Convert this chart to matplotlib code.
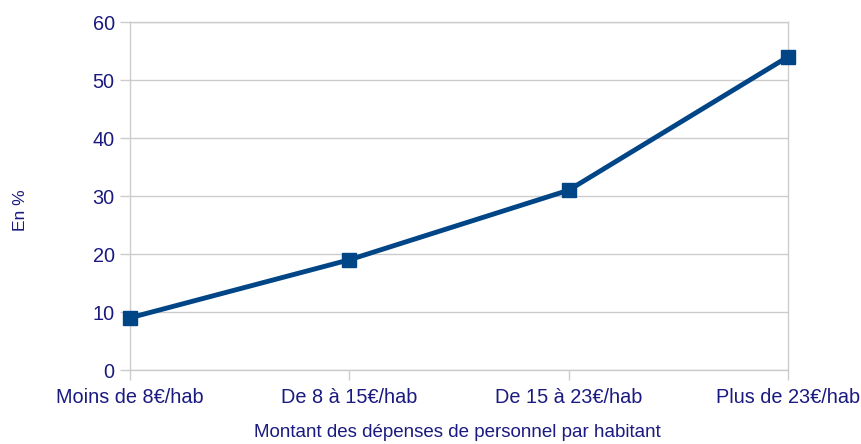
import matplotlib
matplotlib.use("Agg")
import matplotlib.pyplot as plt

categories = ["Moins de 8€/hab", "De 8 à 15€/hab", "De 15 à 23€/hab", "Plus de 23€/hab"]
values = [9, 19, 31, 54]
yticks = [0, 10, 20, 30, 40, 50, 60]

plt.rcParams['font.family'] = ['Liberation Sans', 'DejaVu Sans']
text_color = "#1a1a80"
line_color = "#004586"
grid_color = "#cccccc"

W, H = 861, 444
fig = plt.figure(figsize=(W/100, H/100), dpi=100)
ax = fig.add_axes([130/W, 1 - 370/H, (788-130)/W, (370-22)/H])

x = list(range(len(categories)))
ax.plot(x, values, color=line_color, linewidth=3.5, marker="s", markersize=10,
        markerfacecolor=line_color, markeredgecolor=line_color, clip_on=False, zorder=3)

ax.set_xlim(0, len(categories) - 1)
ax.set_ylim(0, 60)
ax.set_yticks(yticks)
ax.set_xticks(x)
ax.set_xticklabels(categories)
ax.yaxis.grid(True, color=grid_color, linewidth=1)
ax.set_axisbelow(True)
for s in ax.spines.values():
    s.set_color(grid_color)
    s.set_linewidth(1)
ax.tick_params(axis='both', colors=grid_color, labelcolor=text_color, labelsize=14.3,
               length=7, width=1, direction='out')
ax.tick_params(axis='x', pad=6)
ax.tick_params(axis='y', pad=4)

ax.set_ylabel("En %", color=text_color, fontsize=12.5)
ax.yaxis.set_label_coords(28/W, 1 - 210/H, transform=fig.transFigure)
ax.set_xlabel("Montant des dépenses de personnel par habitant", color=text_color,
              fontsize=13.5)
ax.xaxis.set_label_coords(457/W, 1 - 424/H, transform=fig.transFigure)

fig.savefig("out.png", dpi=100)
